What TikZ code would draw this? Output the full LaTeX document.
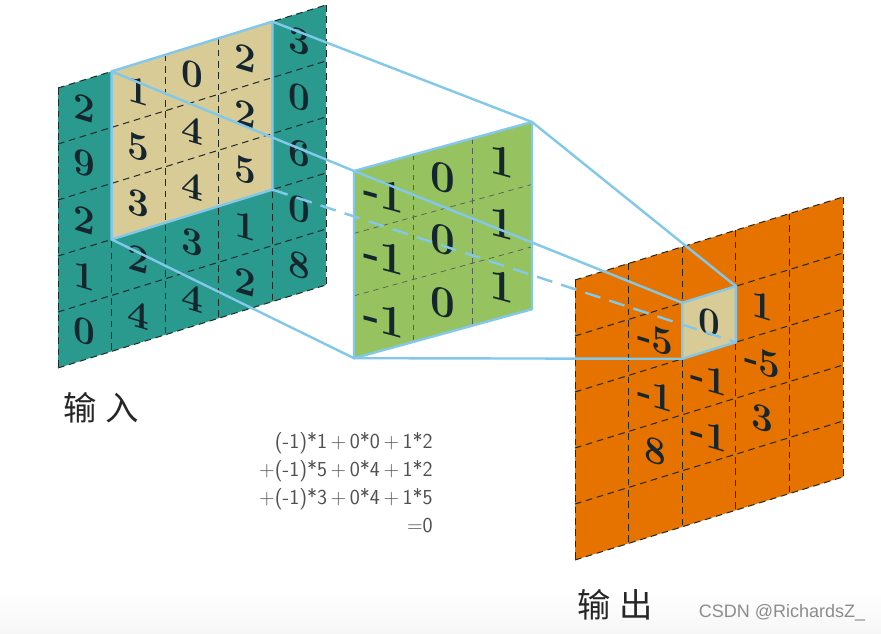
\documentclass[tikz,border=0pt]{standalone}
\usepackage{fontspec}
\newfontfamily\cjk{Noto Sans CJK SC}
\newfontfamily\wmfont{Liberation Sans}
\definecolor{teal1}{HTML}{2A9A8E}
\definecolor{tan1}{HTML}{D8CB96}
\definecolor{green1}{HTML}{96C35F}
\definecolor{orange1}{HTML}{E67300}
\definecolor{blue1}{HTML}{82C8EA}
\definecolor{numcol}{HTML}{16262F}
\definecolor{gridcol}{HTML}{1E2A2A}
\definecolor{formcol}{HTML}{505050}
\definecolor{wmcol}{HTML}{8C8C8C}
\tikzset{
  gridline/.style={draw=gridcol, line width=0.75pt, dash pattern=on 5pt off 3.5pt},
  kgridline/.style={draw=gridcol!75, line width=0.55pt, dash pattern=on 4pt off 3.5pt},
  conn/.style={draw=blue1, line width=1.8pt, line join=round},
  dconn/.style={conn, dash pattern=on 12pt off 7pt},
  outl/.style={draw=blue1, line width=1.8pt, line join=round},
  num/.style={font=\fontsize{29}{29}\selectfont\bfseries, text=numcol, yslant=-0.3, inner sep=0pt},
  knum/.style={font=\fontsize{33}{33}\selectfont\bfseries, text=numcol, yslant=-0.27, inner sep=0pt},
  label/.style={font=\cjk\fontsize{25}{25}\selectfont, text=black!85, inner sep=0pt},
}
\begin{document}
\begin{tikzpicture}[x=0.75pt, y=-0.75pt]
\useasboundingbox (0,0) rectangle (881,634);
\fill[white] (0,0) rectangle (881,634);
\shade[top color=white, bottom color=gray!7] (0,592) rectangle (881,634);

% ---------- input ----------
\begin{scope}[shift={(58,88)}, x={(40.2pt,12.45pt)}, y={(0pt,-42pt)}]
  \fill[teal1] (0,0) -- (5,0) -- (5,5) -- (0,5) -- cycle;
  \fill[tan1] (1,0) -- (4,0) -- (4,3) -- (1,3) -- cycle;
  \foreach \i in {0,...,5} {
    \draw[gridline] (\i,0) -- (\i,5);
    \draw[gridline] (0,\i) -- (5,\i);
  }
  \coordinate (iTL) at (1,0);
  \coordinate (iTR) at (4,0);
  \coordinate (iBR) at (4,3);
  \coordinate (iBL) at (1,3);
  \foreach \row [count=\r from 0] in {{2,1,0,2,3},{9,5,4,2,0},{2,3,4,5,6},{1,2,3,1,0},{0,4,4,2,8}} {
    \foreach \v [count=\c from 0] in \row {
      \node[num] (in-\c-\r) at (\c+0.5,\r+0.5) {\v};
    }
  }
\end{scope}

% ---------- output ----------
\begin{scope}[shift={(575,280)}, x={(40.2pt,12.45pt)}, y={(0pt,-42pt)}]
  \fill[orange1] (0,0) -- (5,0) -- (5,5) -- (0,5) -- cycle;
  \fill[tan1] (2,1) -- (3,1) -- (3,2) -- (2,2) -- cycle;
  \foreach \i in {0,...,5} {
    \draw[gridline] (\i,0) -- (\i,5);
    \draw[gridline] (0,\i) -- (5,\i);
  }
  \coordinate (oTL) at (2,1);
  \coordinate (oTR) at (3,1);
  \coordinate (oBR) at (3,2);
  \coordinate (oBL) at (2,2);
  \foreach \row [count=\r from 1] in {{-5,0,1},{-1,-1,-5},{8,-1,3}} {
    \foreach \v [count=\c from 1] in \row {
      \node[num] (out-\c-\r) at (\c+0.5,\r+0.5) {\v};
    }
  }
\end{scope}

% ---------- kernel ----------
\begin{scope}[shift={(354,171)}, x={(44.5pt,12.25pt)}, y={(0pt,-46.8pt)}]
  \fill[green1] (0,0) -- (3,0) -- (3,3) -- (0,3) -- cycle;
  \foreach \i in {1,2} {
    \draw[kgridline] (\i,0) -- (\i,3);
    \draw[kgridline] (0,\i) -- (3,\i);
  }
  \coordinate (kTL) at (0,0);
  \coordinate (kTR) at (3,0);
  \coordinate (kBR) at (3,3);
  \coordinate (kBL) at (0,3);
  \foreach \r in {0,1,2} {
    \foreach \v [count=\c from 0] in {-1,0,1} {
      \node[knum] (k-\c-\r) at (\c+0.5,\r+0.5) {\v};
    }
  }
\end{scope}

% ---------- outlines and connectors ----------
\draw[outl] (iTL) -- (iTR) -- (iBR) -- (iBL) -- cycle;
\draw[outl] (kTL) -- (kTR) -- (kBR) -- (kBL) -- cycle;
\draw[outl] (oTL) -- (oTR) -- (oBR) -- (oBL) -- cycle;
\draw[conn] (iTR) -- (kTR) -- (oTR);
\draw[conn] (iBL) -- (kBL) -- (oBL);
\draw[conn] (iTL) -- (kTL) -- (oTL);
\draw[dconn] (iBR) -- (oBR);

% ---------- texts ----------
\node[label] (inlabel) at (101,408) {输\hspace{7pt}入};
\node[label] (outlabel) at (615,605) {输\hspace{7pt}出};
\node[font=\sffamily\fontsize{16}{21}\selectfont, text=formcol, align=right, anchor=east, inner sep=0pt] (formula) at (433,483)
  {(-1)*1\,+\,0*0\,+\,1*2\\+(-1)*5\,+\,0*4\,+\,1*2\\+(-1)*3\,+\,0*4\,+\,1*5\\=0};
\node[font=\wmfont\fontsize{13.5}{13.5}\selectfont, text=wmcol, inner sep=0pt] (wm) at (782,613) {CSDN @RichardsZ\_};
\end{tikzpicture}
\end{document}
